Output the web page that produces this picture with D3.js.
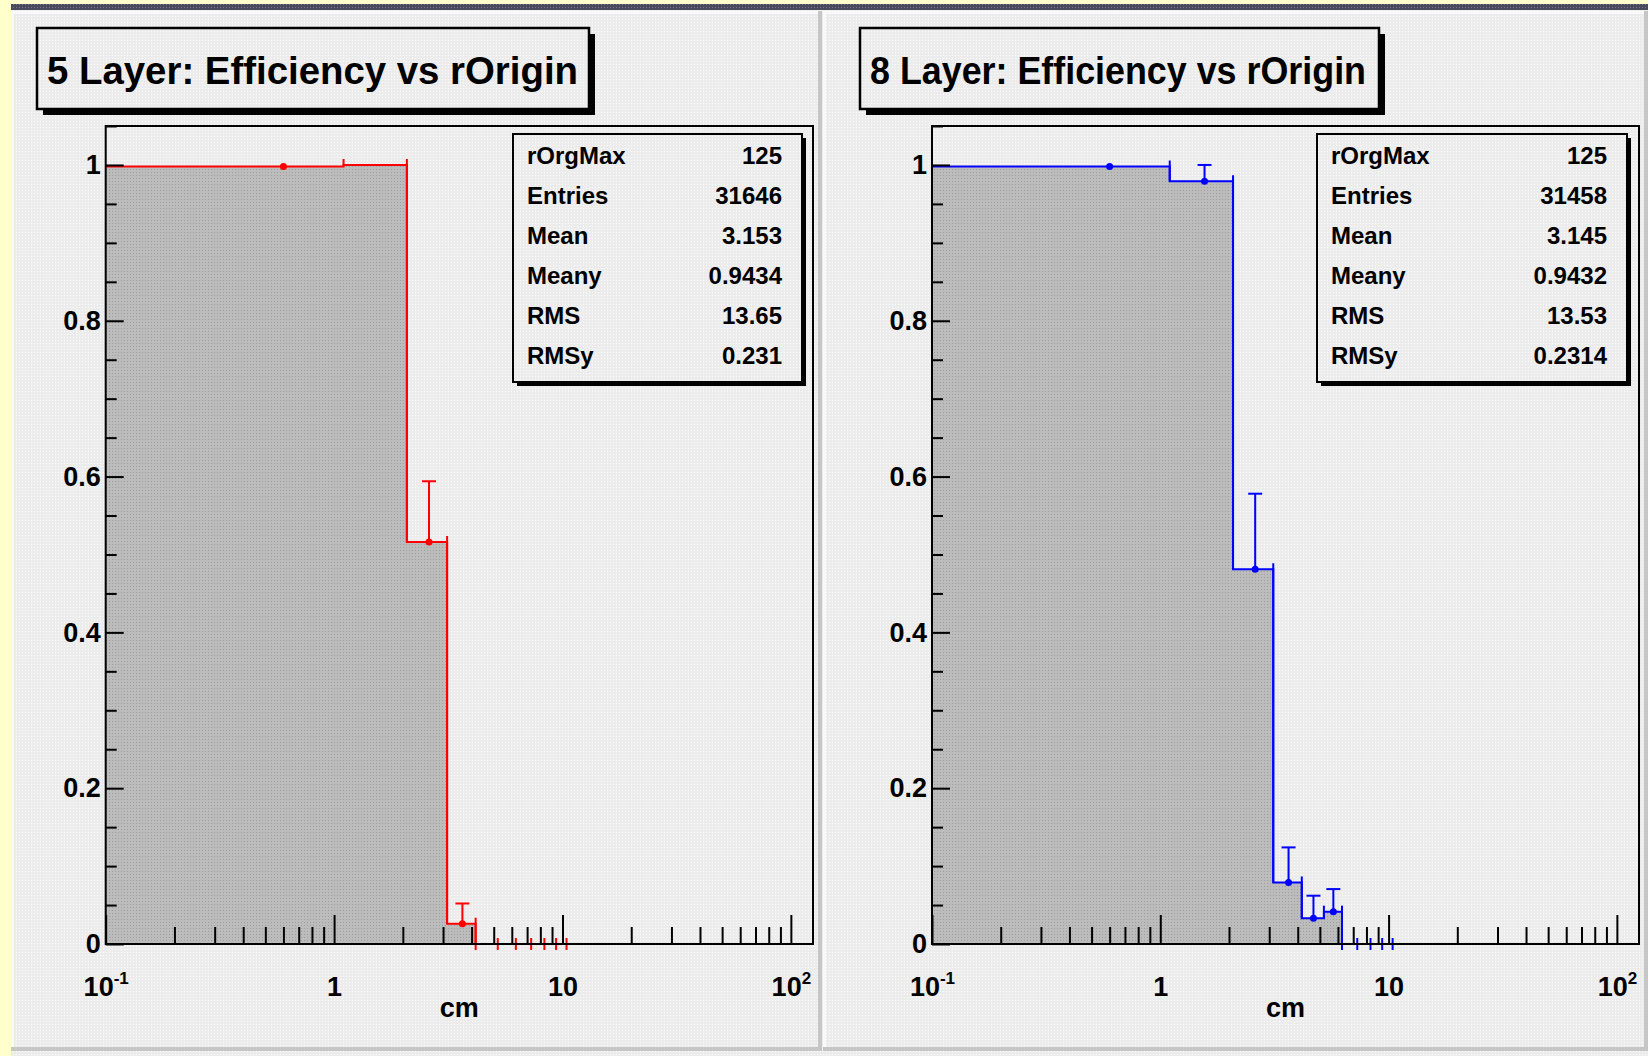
<!DOCTYPE html>
<html>
<head>
<meta charset="utf-8">
<script src="https://cdn.jsdelivr.net/npm/d3@7"></script>
<style>
  html, body { margin: 0; padding: 0; background: #ffffcc; }
  svg { display: block; }
  text { font-family: "Liberation Sans", Arial, Helvetica, sans-serif; font-weight: bold; fill: #000; }
</style>
</head>
<body>
<svg id="canvas" width="1648" height="1056"></svg>
<script>
// ---- data ----------------------------------------------------------------
// bin edges (cm) shared by both histograms; first edge clipped to axis start
const binEdges   = [0.1, 1.1, 2.083, 3.125, 4.167, 5.208, 6.25, 7.292, 8.333, 9.375, 10.417];
const binCenters = [0.6, 1.5625, 2.604, 3.646, 4.6875, 5.729, 6.771, 7.8125, 8.854, 9.896];

// 5-layer efficiency per bin and upper error
const eff5 = [0.998, 1.0, 0.516, 0.026, 0, 0, 0, 0, 0, 0];
const err5 = [0.001, 0, 0.078, 0.026, 0, 0, 0, 0, 0, 0];

// 8-layer efficiency per bin and upper error
const eff8 = [0.998, 0.979, 0.481, 0.079, 0.033, 0.0415, 0, 0, 0, 0];
const err8 = [0.001, 0.021, 0.097, 0.045, 0.029, 0.029, 0, 0, 0, 0];

const titles = ["5 Layer: Efficiency vs rOrigin", "8 Layer: Efficiency vs rOrigin"];

const statLabels = ["rOrgMax", "Entries", "Mean", "Meany", "RMS", "RMSy"];
const stats5 = ["125", "31646", "3.153", "0.9434", "13.65", "0.231"];
const stats8 = ["125", "31458", "3.145", "0.9432", "13.53", "0.2314"];

const yTicks      = [0, 0.2, 0.4, 0.6, 0.8, 1];
const yTickLabels = ["0", "0.2", "0.4", "0.6", "0.8", "1"];
const xDecades    = [0.1, 1, 10, 100];
const xTickLabels = [["10", "-1"], ["1", ""], ["10", ""], ["10", "2"]];
const xTitle = "cm";

const xDomain = [0.1, 125];
const yDomain = [0, 1.05];

// ---- layout --------------------------------------------------------------
const panels = [
  { title: titles[0], color: "#ff0000", eff: eff5, err: err5, stats: stats5,
    pad: { x: 11, y: 11, w: 811, h: 1040 },
    titleBox: { x: 37, y: 28, w: 552, h: 81 }, titleWidth: 531,
    frame: { x0: 105.7, x1: 813, y0: 126, y1: 944 },
    statBox: { x: 513, y: 134, w: 289, h: 248 } },
  { title: titles[1], color: "#0000ff", eff: eff8, err: err8, stats: stats8,
    pad: { x: 823, y: 11, w: 825, h: 1040 },
    titleBox: { x: 860, y: 28, w: 519, h: 81 }, titleWidth: 496,
    frame: { x0: 932, x1: 1639, y0: 126, y1: 944 },
    statBox: { x: 1317, y: 134, w: 310, h: 248 } }
];

const svg = d3.select("#canvas");
const defs = svg.append("defs");

function dotPattern(id, base, dot) {
  const p = defs.append("pattern").attr("id", id)
    .attr("width", 3).attr("height", 3).attr("patternUnits", "userSpaceOnUse");
  p.append("rect").attr("width", 3).attr("height", 3).attr("fill", base);
  p.append("rect").attr("x", 1).attr("y", 1).attr("width", 1).attr("height", 1).attr("fill", dot);
}
dotPattern("bgDots", "#ececec", "#fbfbfb");
dotPattern("histDots", "#bcbcbc", "#9e9e9e");
dotPattern("bandDots", "#4a4a5e", "#77778a");

// canvas background and top band
svg.append("rect").attr("width", 1648).attr("height", 1056).attr("fill", "#ffffcc");
svg.append("rect").attr("x", 11).attr("y", 10).attr("width", 1637).attr("height", 1046).attr("fill", "url(#bgDots)");
svg.append("rect").attr("x", 11).attr("y", 4).attr("width", 1637).attr("height", 6).attr("fill", "url(#bandDots)");

panels.forEach(P => {
  const g = svg.append("g");
  const f = P.frame;

  // pad with raised border
  const pd = P.pad;
  g.append("rect").attr("x", pd.x).attr("y", pd.y).attr("width", pd.w).attr("height", pd.h).attr("fill", "url(#bgDots)");
  g.append("rect").attr("x", pd.x).attr("y", pd.y).attr("width", pd.w).attr("height", 3).attr("fill", "#f9f9f9");
  g.append("rect").attr("x", pd.x).attr("y", pd.y).attr("width", 3).attr("height", pd.h).attr("fill", "#f9f9f9");
  g.append("rect").attr("x", pd.x + pd.w - 4).attr("y", pd.y).attr("width", 4).attr("height", pd.h).attr("fill", "#c6c6c6");
  g.append("rect").attr("x", pd.x).attr("y", pd.y + pd.h - 4).attr("width", pd.w).attr("height", 4).attr("fill", "#c6c6c6");

  // title box
  const tb = P.titleBox;
  g.append("rect").attr("x", tb.x + 6).attr("y", tb.y + 6).attr("width", tb.w).attr("height", tb.h).attr("fill", "#000");
  g.append("rect").attr("x", tb.x).attr("y", tb.y).attr("width", tb.w).attr("height", tb.h)
    .attr("fill", "url(#bgDots)").attr("stroke", "#000").attr("stroke-width", 2.5);
  g.append("text").attr("x", tb.x + 10).attr("y", 84)
    .attr("font-size", 38)
    .attr("textLength", P.titleWidth).attr("lengthAdjust", "spacingAndGlyphs")
    .text(P.title);

  // scales
  const x = d3.scaleLog().domain(xDomain).range([f.x0, f.x1]);
  const y = d3.scaleLinear().domain(yDomain).range([f.y1, f.y0]);

  // histogram as step points
  const pts = [];
  P.eff.forEach((v, i) => { pts.push([binEdges[i], v]); pts.push([binEdges[i + 1], v]); });

  const area = d3.area().x(d => x(d[0])).y0(y(0)).y1(d => y(d[1]));
  g.append("path").datum(pts).attr("d", area).attr("fill", "url(#histDots)");

  const line = d3.line().x(d => x(d[0])).y(d => y(d[1]));
  g.append("path").datum(pts).attr("d", line)
    .attr("fill", "none").attr("stroke", P.color).attr("stroke-width", 2);

  // bin-edge strokes
  const n = P.eff.length;
  const edgeIdx = d3.range(1, n + 1);
  g.selectAll(null).data(edgeIdx).join("line")
    .attr("x1", i => x(binEdges[i])).attr("x2", i => x(binEdges[i]))
    .attr("y1", i => y(Math.max(P.eff[i - 1], i < n ? P.eff[i] : 0)) - 6)
    .attr("y2", i => {
      const lo = Math.min(P.eff[i - 1], i < n ? P.eff[i] : 0);
      return lo === 0 ? y(0) + 6 : y(lo);
    })
    .attr("stroke", P.color).attr("stroke-width", 2);

  // error bars and markers
  const withErr = d3.range(n).filter(i => P.err[i] > 0);
  withErr.forEach(i => {
    const cx = x(binCenters[i]);
    const vy = y(P.eff[i]);
    const ty = y(P.eff[i] + P.err[i]);
    if (vy - ty >= 4) {
      g.append("line").attr("x1", cx).attr("x2", cx).attr("y1", vy).attr("y2", ty)
        .attr("stroke", P.color).attr("stroke-width", 2);
      g.append("line").attr("x1", cx - 7).attr("x2", cx + 7).attr("y1", ty).attr("y2", ty)
        .attr("stroke", P.color).attr("stroke-width", 2);
    }
    g.append("circle").attr("cx", cx).attr("cy", vy).attr("r", 3.5).attr("fill", P.color);
  });

  // axes
  const styleAxis = sel => {
    sel.select(".domain").remove();
    sel.selectAll(".tick line").attr("stroke", "#000").attr("stroke-width", 2);
    sel.attr("font-family", null).attr("font-size", 27);
  };

  const yMinorVals = d3.range(0, 21 + 1).map(k => k * 0.05).filter(v => v <= 1.05 && Math.round(v * 100) % 20 !== 0);
  g.append("g").attr("transform", `translate(${f.x0},0)`)
    .call(d3.axisLeft(y).tickValues(yMinorVals).tickSize(-11).tickFormat(""))
    .call(styleAxis);
  g.append("g").attr("transform", `translate(${f.x0},0)`)
    .call(d3.axisLeft(y).tickValues(yTicks).tickSize(-18).tickPadding(5)
      .tickFormat((d, i) => yTickLabels[i]))
    .call(styleAxis);

  const xMinorVals = [];
  [0.1, 1, 10].forEach(dec => { for (let k = 2; k <= 9; k++) xMinorVals.push(k * dec); });
  g.append("g").attr("transform", `translate(0,${f.y1})`)
    .call(d3.axisBottom(x).tickValues(xMinorVals).tickSize(-17).tickFormat(""))
    .call(styleAxis);
  const xAx = g.append("g").attr("transform", `translate(0,${f.y1})`)
    .call(d3.axisBottom(x).tickValues(xDecades).tickSize(-29).tickPadding(33).tickFormat(() => ""))
    .call(styleAxis);
  xAx.selectAll(".tick text").each(function (d, i) {
    const t = d3.select(this);
    const lab = xTickLabels[i];
    t.append("tspan").text(lab[0]);
    if (lab[1]) t.append("tspan").attr("font-size", 17).attr("dy", -12).text(lab[1]);
  });

  g.append("text").attr("x", (f.x0 + f.x1) / 2).attr("y", 1017)
    .attr("text-anchor", "middle").attr("font-size", 27).text(xTitle);

  // frame
  g.append("rect").attr("x", f.x0).attr("y", f.y0)
    .attr("width", f.x1 - f.x0).attr("height", f.y1 - f.y0)
    .attr("fill", "none").attr("stroke", "#000").attr("stroke-width", 2);

  // statistics box
  const sb = P.statBox;
  g.append("rect").attr("x", sb.x + 4).attr("y", sb.y + 4).attr("width", sb.w).attr("height", sb.h).attr("fill", "#000");
  g.append("rect").attr("x", sb.x).attr("y", sb.y).attr("width", sb.w).attr("height", sb.h)
    .attr("fill", "url(#bgDots)").attr("stroke", "#000").attr("stroke-width", 2);
  statLabels.forEach((lab, i) => {
    const by = sb.y + 30 + i * 40;
    g.append("text").attr("x", sb.x + 14).attr("y", by).attr("font-size", 24).text(lab);
    g.append("text").attr("x", sb.x + sb.w - 20).attr("y", by).attr("font-size", 24)
      .attr("text-anchor", "end").text(P.stats[i]);
  });
});
</script>
</body>
</html>
